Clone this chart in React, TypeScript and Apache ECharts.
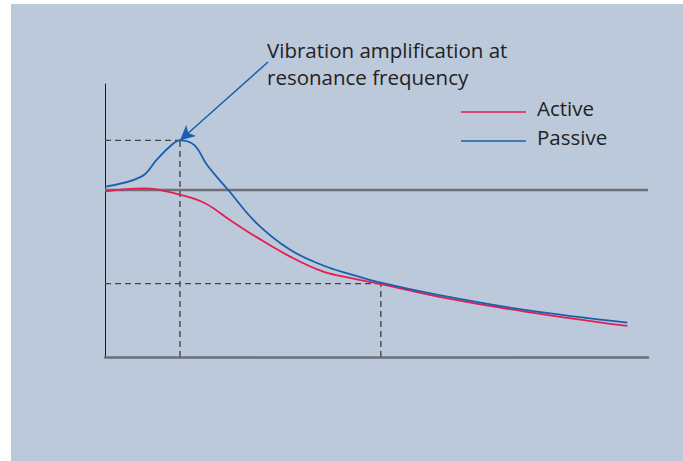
import React, { useEffect, useRef } from "react";
import * as echarts from "echarts";

// frequency (arbitrary units), amplitude ratio
const passiveX = [0, 6.7, 9.5, 12.0, 13.8, 16.4, 18.8, 22.7, 27.9, 34.1, 40.2, 45.1, 50.8, 61.3, 77.3, 96.2];
const passiveY = [1.021, 1.08, 1.18, 1.262, 1.297, 1.27, 1.15, 1.0, 0.802, 0.642, 0.548, 0.497, 0.445, 0.372, 0.282, 0.206];
const activeX = [0, 7.1, 13.8, 18.4, 23.0, 27.9, 34.1, 40.2, 45.1, 50.8, 61.3, 77.3, 96.2];
const activeY = [0.992, 1.01, 0.972, 0.921, 0.821, 0.718, 0.601, 0.511, 0.474, 0.437, 0.362, 0.272, 0.186];

const resonance = { x: 13.8, y: 1.297 };
const crossover = { x: 50.8, y: 0.44 };
const unityGain = 1;
const seriesNames = ["Active", "Passive"];
const annotation = ["Vibration amplification at", "resonance frequency"];

const RED = "#e61e50";
const BLUE = "#1a5fab";
const FONT = "'Open Sans', 'Liberation Sans', sans-serif";

export default function App() {
  const ref = useRef<HTMLDivElement>(null);
  useEffect(() => {
    if (!ref.current) return;
    const chart = echarts.init(ref.current, null, { renderer: "svg" });
    const zip = (xs: number[], ys: number[]) => xs.map((x, i) => [x, ys[i]]);
    const dashed = { type: [6, 4], color: "#444", width: 1.3 };
    chart.setOption({
      animation: false,
      backgroundColor: "#ffffff",
      grid: { left: 105, right: 35, top: 84, bottom: 104 },
      xAxis: {
        type: "value",
        min: 0,
        max: 100,
        axisLine: { show: true, lineStyle: { color: "#6e7079", width: 2.5 } },
        axisTick: { show: false },
        axisLabel: { show: false },
        splitLine: { show: false },
      },
      yAxis: {
        type: "value",
        min: 0,
        max: 1.635,
        axisLine: { show: true, lineStyle: { color: "#1a1a1a", width: 1 } },
        axisTick: { show: false },
        axisLabel: { show: false },
        splitLine: { show: false },
      },
      graphic: [
        {
          type: "rect",
          z: -10,
          silent: true,
          shape: { x: 11, y: 4, width: 672, height: 457 },
          style: { fill: "#bbc9db" },
        },
        {
          type: "text",
          left: 267,
          top: 36,
          style: {
            text: annotation.join("\n"),
            font: `20.5px ${FONT}`,
            lineHeight: 27,
            fill: "#222222",
          },
        },
        {
          type: "line",
          shape: { x1: 461, y1: 112, x2: 526, y2: 112 },
          style: { stroke: RED, lineWidth: 1.5 },
        },
        {
          type: "line",
          shape: { x1: 461, y1: 141, x2: 526, y2: 141 },
          style: { stroke: BLUE, lineWidth: 1.5 },
        },
        {
          type: "text",
          left: 537,
          top: 97,
          style: { text: seriesNames[0], font: `20.5px ${FONT}`, fill: "#222222" },
        },
        {
          type: "text",
          left: 537,
          top: 126,
          style: { text: seriesNames[1], font: `20.5px ${FONT}`, fill: "#222222" },
        },
      ],
      series: [
        {
          type: "line",
          silent: true,
          symbol: "none",
          lineStyle: { color: "#6e7079", width: 2.5 },
          data: [[0, unityGain], [100, unityGain]],
          z: 1,
        },
        {
          type: "line",
          silent: true,
          symbol: "none",
          lineStyle: { ...dashed, color: "#555", width: 1.6 },
          data: [[resonance.x, 0], [resonance.x, resonance.y]],
          z: 1,
        },
        {
          type: "line",
          silent: true,
          symbol: "none",
          lineStyle: dashed,
          data: [[0, resonance.y], [resonance.x, resonance.y]],
          z: 1,
        },
        {
          type: "line",
          silent: true,
          symbol: "none",
          lineStyle: { ...dashed, color: "#555", width: 1.6 },
          data: [[crossover.x, 0], [crossover.x, crossover.y]],
          z: 1,
        },
        {
          type: "line",
          silent: true,
          symbol: "none",
          lineStyle: dashed,
          data: [[0, crossover.y], [crossover.x, crossover.y]],
          z: 1,
        },
        {
          name: seriesNames[0],
          type: "line",
          smooth: 0.4,
          symbol: "none",
          lineStyle: { color: RED, width: 1.8 },
          data: zip(activeX, activeY),
          z: 3,
        },
        {
          name: seriesNames[1],
          type: "line",
          smooth: 0.4,
          symbol: "none",
          lineStyle: { color: BLUE, width: 1.8 },
          data: zip(passiveX, passiveY),
          z: 4,
          markLine: {
            silent: true,
            animation: false,
            label: { show: false },
            lineStyle: { color: BLUE, width: 1.5, type: "solid" },
            symbolSize: [11, 15],
            data: [
              [
                { x: 268, y: 62, symbol: "none" },
                { coord: [resonance.x, resonance.y], symbol: "arrow" },
              ],
            ],
          },
        },
      ],
    });
    return () => chart.dispose();
  }, []);
  return (
    <div
      ref={ref}
      style={{ position: "fixed", left: 0, top: 0, width: 683, height: 461 }}
    />
  );
}
